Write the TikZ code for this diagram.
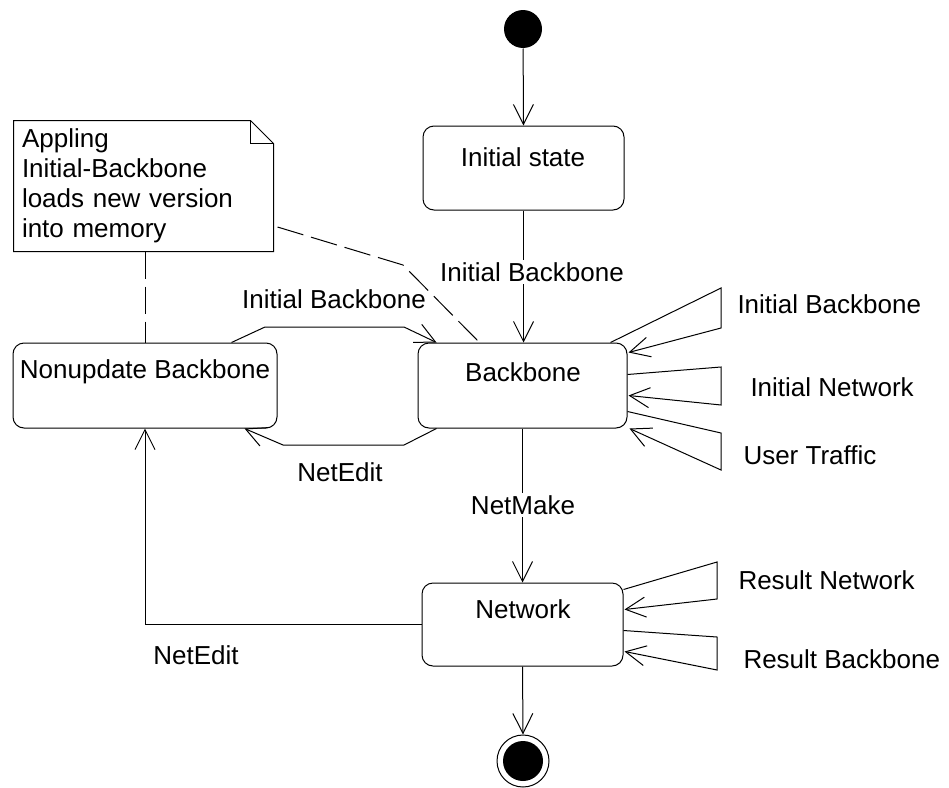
\documentclass[tikz,border=0pt]{standalone}
\usepackage{fontspec}
\setmainfont{Liberation Sans}
\usetikzlibrary{arrows.meta,calc}
\begin{document}
\begin{tikzpicture}[x=1pt,y=-1pt,line width=1pt,
  >={Straight Barb[length=20pt,width=20pt]},
  every node/.style={font=\fontsize{26}{30}\selectfont},
  state/.style={draw,rounded corners=11pt,minimum width=#1,inner sep=0pt},
  state/.default=201pt,
  lbl/.style={inner sep=1pt},
  lblw/.style={fill=white,inner sep=2pt},
  notelink/.style={dash pattern=on 27pt off 8pt}]
\useasboundingbox (0,0) rectangle (949,787);
% nodes
\node[circle,fill=black,minimum size=38pt,inner sep=0] (start) at (523,29) {};
\node[state=201pt,minimum height=84pt] (init) at (523.5,168) {};
\node[state=209pt,minimum height=85pt] (bb) at (522.5,385.5) {};
\node[state=264pt,minimum height=85pt] (nu) at (145,385.5) {};
\node[state=201pt,minimum height=83pt] (net) at (522.5,624.5) {};
\node[circle,draw,minimum size=52pt,inner sep=0] (final) at (523,761) {};
\fill (final.center) circle (20pt);
% state names
\node[lbl] at (523,157) {Initial state};
\node[lbl] at (523,372) {Backbone};
\node[lbl] at (145,372) {Nonupdate Backbone};
\node[lbl] at (523,609) {Network};
% note
\node[minimum width=259pt,minimum height=130pt,inner xsep=8pt,inner ysep=0pt,
      text width=243pt,align=left] (note) at (143.5,186)
  {Appling\\Initial-Backbone\\loads new version\\into memory};
\draw (note.north west) -- ($(note.north east)+(-23,0)$) -- ($(note.north east)+(0,23)$)
  -- (note.south east) -- (note.south west) -- cycle;
\draw ($(note.north east)+(-23,0)$) -- ($(note.north east)+(-23,23)$) -- ($(note.north east)+(0,23)$);
\draw[notelink] (note.south -| nu.north) -- (nu.north);
\draw[notelink] ($(note.east)+(4,41)$) -- (403,265) -- ($(bb.north west)+(62,0)$);
% main transitions
\draw[->] (start) -- (init.north);
\draw[->] (init.south) -- (init.south |- bb.north);
\node[lblw] at (532,272) {Initial Backbone};
\draw[->] (bb.south) -- (bb.south |- net.north);
\node[lblw] at (523,505) {NetMake};
\draw[->] (net.south) -- (final.north);
% between Nonupdate and Backbone
\draw[->] ($(nu.north west)+(219,0)$) -- (265,327) -- (404,327) -- ($(bb.north west)+(19,0)$);
\node[lbl] at (334,299) {Initial Backbone};
\draw[->] ($(bb.south west)+(19,0)$) -- (404,445) -- (283,445) -- ($(nu.south west)+(232,0)$);
\node[lbl] at (340,472) {NetEdit};
\draw[->] (net.west) -| (nu.south);
\node[lbl] at (196,655) {NetEdit};
% self transitions on Backbone
\draw[->] ($(bb.north east)+(-17,0)$) -- (721,288) -- (721,328) -- ($(bb.north east)+(1,10)$);
\node[lbl,anchor=west] at (736,304) {Initial Backbone};
\draw[->] ($(bb.north east)+(0,32)$) -- (721,367) -- (721,405) -- ($(bb.north east)+(1,53)$);
\node[lbl,anchor=west] at (749,387) {Initial Network};
\draw[->] ($(bb.north east)+(0,69)$) -- (721,433) -- (721,470) -- ($(bb.north east)+(2,86)$);
\node[lbl,anchor=west] at (742,455) {User Traffic};
% self transitions on Network
\draw[->] ($(net.north east)+(0,7)$) -- (717,562) -- (717,599) -- ($(net.north east)+(1,27)$);
\node[lbl,anchor=west] at (737,580) {Result Network};
\draw[->] ($(net.north east)+(0,48)$) -- (717,637) -- (717,670) -- ($(net.north east)+(1,69)$);
\node[lbl,anchor=west] at (742,659) {Result Backbone};
\end{tikzpicture}
\end{document}
